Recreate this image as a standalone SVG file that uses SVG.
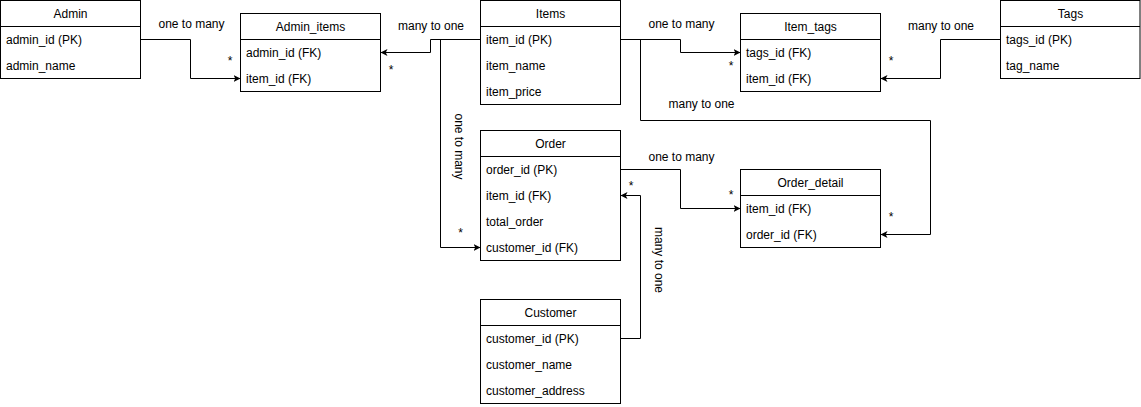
<svg xmlns="http://www.w3.org/2000/svg" width="1141" height="407" viewBox="0 0 1141 407">
<defs>
<style>
.box{fill:#fff;stroke:#000;stroke-width:1}
.div{stroke:#000;stroke-width:1}
text{font-family:"Liberation Sans",Arial,Helvetica,sans-serif;font-size:12px;fill:#000}
.hd{text-anchor:middle}
.lbl{text-anchor:middle}
.star{text-anchor:middle}
.edge{fill:none;stroke:#000;stroke-width:1;marker-end:url(#arr)}
</style>
<marker id="arr" markerUnits="userSpaceOnUse" markerWidth="10" markerHeight="10" refX="7" refY="3.5" orient="auto">
<path d="M0,0 L7,3.5 L0,7 L1.75,3.5 Z" fill="#000"/>
</marker>
</defs>
<rect width="1141" height="407" fill="#fff"/>

<g id="Admin" transform="translate(0,0)">
<rect class="box" x="0.5" y="0.5" width="140" height="78"/>
<line class="div" x1="0.5" y1="26.5" x2="140.5" y2="26.5"/>
<text class="hd" x="70.5" y="18">Admin</text>
<text x="6" y="44">admin_id (PK)</text>
<text x="6" y="70">admin_name</text>
</g>

<g id="Admin_items" transform="translate(240,13)">
<rect class="box" x="0.5" y="0.5" width="140" height="78"/>
<line class="div" x1="0.5" y1="26.5" x2="140.5" y2="26.5"/>
<text class="hd" x="70.5" y="18">Admin_items</text>
<text x="6" y="44">admin_id (FK)</text>
<text x="6" y="70">item_id (FK)</text>
</g>

<g id="Items" transform="translate(480,0)">
<rect class="box" x="0.5" y="0.5" width="140" height="104"/>
<line class="div" x1="0.5" y1="26.5" x2="140.5" y2="26.5"/>
<text class="hd" x="70.5" y="18">Items</text>
<text x="6" y="44">item_id (PK)</text>
<text x="6" y="70">item_name</text>
<text x="6" y="96">item_price</text>
</g>

<g id="Item_tags" transform="translate(740,13)">
<rect class="box" x="0.5" y="0.5" width="140" height="78"/>
<line class="div" x1="0.5" y1="26.5" x2="140.5" y2="26.5"/>
<text class="hd" x="70.5" y="18">Item_tags</text>
<text x="6" y="44">tags_id (FK)</text>
<text x="6" y="70">item_id (FK)</text>
</g>

<g id="Tags" transform="translate(1000,0)">
<rect class="box" x="0.5" y="0.5" width="139.5" height="78"/>
<line class="div" x1="0.5" y1="26.5" x2="140" y2="26.5"/>
<text class="hd" x="70.5" y="18">Tags</text>
<text x="6" y="44">tags_id (PK)</text>
<text x="6" y="70">tag_name</text>
</g>

<g id="Order" transform="translate(480,130)">
<rect class="box" x="0.5" y="0.5" width="140" height="130"/>
<line class="div" x1="0.5" y1="26.5" x2="140.5" y2="26.5"/>
<text class="hd" x="70.5" y="18">Order</text>
<text x="6" y="44">order_id (PK)</text>
<text x="6" y="70">item_id (FK)</text>
<text x="6" y="96">total_order</text>
<text x="6" y="122">customer_id (FK)</text>
</g>

<g id="Order_detail" transform="translate(740,169)">
<rect class="box" x="0.5" y="0.5" width="140" height="78"/>
<line class="div" x1="0.5" y1="26.5" x2="140.5" y2="26.5"/>
<text class="hd" x="70.5" y="18">Order_detail</text>
<text x="6" y="44">item_id (FK)</text>
<text x="6" y="70">order_id (FK)</text>
</g>

<g id="Customer" transform="translate(480,299)">
<rect class="box" x="0.5" y="0.5" width="140" height="104"/>
<line class="div" x1="0.5" y1="26.5" x2="140.5" y2="26.5"/>
<text class="hd" x="70.5" y="18">Customer</text>
<text x="6" y="44">customer_id (PK)</text>
<text x="6" y="70">customer_name</text>
<text x="6" y="96">customer_address</text>
</g>

<g id="connectors">
<path class="edge" d="M140.5,39.5 H190.5 V78.5 H240.5"/>
<path class="edge" d="M480.5,39.5 H430.5 V52.5 H380.5"/>
<path class="edge" d="M480.5,39.5 H440.5 V247.5 H480.5"/>
<path class="edge" d="M620.5,39.5 H680.5 V52.5 H740.5"/>
<path class="edge" d="M620.5,39.5 H640.5 V120.5 H930.5 V234.5 H880.5"/>
<path class="edge" d="M1000.5,39.5 H940.5 V78.5 H880.5"/>
<path class="edge" d="M620.5,169.5 H680.5 V208.5 H740.5"/>
<path class="edge" d="M620.5,338.5 H640.5 V195.5 H620.5"/>

<text class="lbl" x="191.5" y="28">one to many</text>
<text class="lbl" x="431" y="30">many to one</text>
<text class="lbl" transform="translate(457.5,146.5) rotate(90)" x="0" y="2.75">one to many</text>
<text class="lbl" x="681.5" y="28">one to many</text>
<text class="lbl" x="701.5" y="108">many to one</text>
<text class="lbl" x="941" y="30">many to one</text>
<text class="lbl" x="681.5" y="160.5">one to many</text>
<text class="lbl" transform="translate(657.3,260) rotate(90)" x="0" y="2.75">many to one</text>

<text class="star" x="230" y="65">*</text>
<text class="star" x="391" y="74">*</text>
<text class="star" x="460.7" y="237">*</text>
<text class="star" x="731" y="70">*</text>
<text class="star" x="891" y="65">*</text>
<text class="star" x="891" y="221">*</text>
<text class="star" x="631" y="190">*</text>
<text class="star" x="731" y="198.5">*</text>
</g>
</svg>
